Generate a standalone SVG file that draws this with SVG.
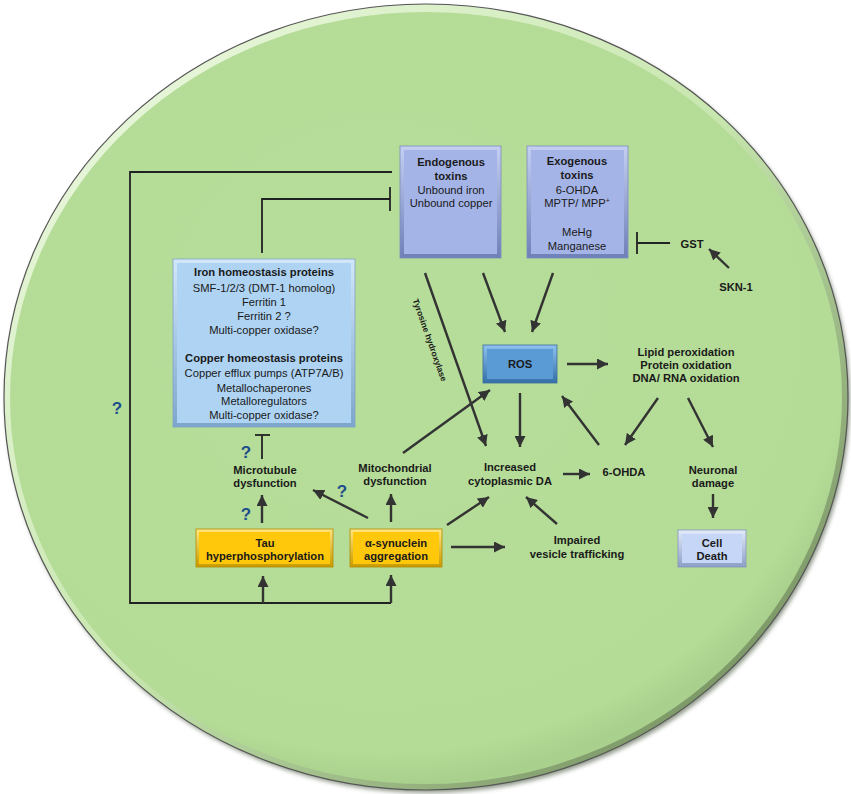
<svg xmlns="http://www.w3.org/2000/svg" width="851" height="794" viewBox="0 0 851 794">
<defs>
<style>
.t{font-family:"Liberation Sans",Arial,sans-serif;font-size:11.2px;fill:#1a1a1a;text-anchor:middle}
.b{font-weight:bold}
.q{font-family:"Liberation Sans",Arial,sans-serif;font-size:17px;font-weight:bold;fill:#1f4e8c;text-anchor:middle}
.ln{fill:none;stroke:#333;stroke-width:2.4}
.ar{fill:none;stroke:#333;stroke-width:2.4;marker-end:url(#ah)}
.thin{fill:none;stroke:#222;stroke-width:1.8}
</style>
<marker id="ah" markerUnits="userSpaceOnUse" markerWidth="12" markerHeight="11" refX="11" refY="5.5" orient="auto">
<path d="M0,0 L11,5.5 L0,11 z" fill="#333"/>
</marker>
<radialGradient id="bg" cx="0.45" cy="0.4" r="0.6">
<stop offset="0" stop-color="#b6dd99"/>
<stop offset="0.93" stop-color="#b4dc97"/>
<stop offset="1" stop-color="#a9d08c"/>
</radialGradient>
<linearGradient id="rim" x1="0" y1="0" x2="1" y2="1">
<stop offset="0" stop-color="#f2fbe8"/>
<stop offset="0.5" stop-color="#c7e6ae"/>
<stop offset="1" stop-color="#5f7a4c"/>
</linearGradient>
<filter id="sh" x="-5%" y="-5%" width="110%" height="110%">
<feGaussianBlur stdDeviation="2"/>
</filter>
<linearGradient id="gLav" x1="0" y1="0" x2="0" y2="1">
<stop offset="0" stop-color="#c4cff2"/>
<stop offset="1" stop-color="#6f80b8"/>
</linearGradient>
<linearGradient id="gIron" x1="0" y1="0" x2="0" y2="1">
<stop offset="0" stop-color="#d2e7fa"/>
<stop offset="1" stop-color="#7da6cc"/>
</linearGradient>
<linearGradient id="gRos" x1="0" y1="0" x2="0" y2="1">
<stop offset="0" stop-color="#8fc0ee"/>
<stop offset="1" stop-color="#336fa8"/>
</linearGradient>
<linearGradient id="gGold" x1="0" y1="0" x2="0" y2="1">
<stop offset="0" stop-color="#ffe680"/>
<stop offset="1" stop-color="#c99a00"/>
</linearGradient>
<linearGradient id="gCell" x1="0" y1="0" x2="0" y2="1">
<stop offset="0" stop-color="#e3ebfb"/>
<stop offset="1" stop-color="#8e9fc6"/>
</linearGradient>
</defs>

<g id="background">
<ellipse cx="428" cy="400" rx="422" ry="393" fill="#4a5a40" filter="url(#sh)" opacity="0.6"/>
<ellipse cx="426" cy="397" rx="422" ry="393" fill="url(#rim)" stroke="#555" stroke-width="1.2"/>
<ellipse cx="426" cy="398" rx="416" ry="386" fill="url(#bg)"/>
</g>

<g id="connectors">
<polyline class="thin" points="392,172 130,172 130,603 391,603"/>
<line class="ar" x1="263" y1="603" x2="263" y2="576"/>
<line class="ar" x1="391" y1="603" x2="391" y2="575"/>
<polyline class="thin" points="262,253 262,199 390,199"/>
<line class="thin" x1="390" y1="187" x2="390" y2="211"/>
<line class="thin" x1="262" y1="459" x2="262" y2="435"/>
<line class="thin" x1="255" y1="435" x2="270" y2="435"/>
<line class="ar" x1="262" y1="523" x2="262" y2="495"/>
<line class="ar" x1="391" y1="522" x2="391" y2="494"/>
<line class="ar" x1="368" y1="518" x2="313" y2="490"/>
<line class="ar" x1="403" y1="453" x2="490" y2="390"/>
<line class="ar" x1="483" y1="273" x2="505" y2="332"/>
<line class="ar" x1="553" y1="273" x2="532" y2="332"/>
<line class="ar" x1="425" y1="273" x2="486" y2="446"/>
<line class="ar" x1="567" y1="364" x2="608" y2="364"/>
<line class="ar" x1="520" y1="393" x2="520" y2="447"/>
<line class="ar" x1="599" y1="445" x2="562" y2="396"/>
<line class="ar" x1="658" y1="398" x2="625" y2="445"/>
<line class="ar" x1="688" y1="398" x2="713" y2="447"/>
<line class="ar" x1="563" y1="474" x2="590" y2="474"/>
<line class="ar" x1="713" y1="494" x2="713" y2="518"/>
<line class="ar" x1="447" y1="525" x2="489" y2="497"/>
<line class="ar" x1="557" y1="524" x2="526" y2="497"/>
<line class="ar" x1="451" y1="547" x2="505" y2="547"/>
<line class="thin" x1="670" y1="243" x2="637" y2="243"/>
<line class="thin" x1="637" y1="232" x2="637" y2="254"/>
<line class="ar" x1="729" y1="268" x2="709" y2="249"/>
<text class="t b" transform="translate(427,341) rotate(70.5)" style="font-size:8.5px">Tyrosine hydroxylase</text>
</g>

<g id="endogenous">
<rect x="400" y="146" width="101" height="112" fill="url(#gLav)" stroke="#7d8cbd" stroke-width="0.8"/>
<rect x="404" y="150" width="93" height="104" fill="#a4b4e7"/>
<text class="t b" x="451" y="166">Endogenous</text>
<text class="t b" x="451" y="180">toxins</text>
<text class="t" x="451" y="194">Unbound iron</text>
<text class="t" x="451" y="207">Unbound copper</text>
</g>

<g id="exogenous">
<rect x="527" y="146" width="101" height="112" fill="url(#gLav)" stroke="#7d8cbd" stroke-width="0.8"/>
<rect x="531" y="150" width="93" height="104" fill="#a4b4e7"/>
<text class="t b" x="577" y="165">Exogenous</text>
<text class="t b" x="577" y="179">toxins</text>
<text class="t" x="577" y="194">6-OHDA</text>
<text class="t" x="577" y="207">MPTP/ MPP<tspan font-size="7" dy="-4">+</tspan></text>
<text class="t" x="577" y="236">MeHg</text>
<text class="t" x="577" y="250">Manganese</text>
</g>

<g id="iron">
<rect x="173" y="259" width="182" height="168" fill="url(#gIron)" stroke="#7fa3c6" stroke-width="0.8"/>
<rect x="177" y="263" width="174" height="160" fill="#aed3f3"/>
<text class="t b" x="264" y="276">Iron homeostasis proteins</text>
<text class="t" x="264" y="292">SMF-1/2/3 (DMT-1 homolog)</text>
<text class="t" x="264" y="306">Ferritin 1</text>
<text class="t" x="264" y="320">Ferritin 2 ?</text>
<text class="t" x="264" y="334">Multi-copper oxidase?</text>
<text class="t b" x="264" y="362">Copper homeostasis proteins</text>
<text class="t" x="264" y="377">Copper efflux pumps (ATP7A/B)</text>
<text class="t" x="264" y="392">Metallochaperones</text>
<text class="t" x="264" y="405">Metalloregulators</text>
<text class="t" x="264" y="419">Multi-copper oxidase?</text>
</g>

<g id="ros">
<rect x="483" y="345" width="74" height="38" fill="url(#gRos)" stroke="#3d6e9e" stroke-width="0.8"/>
<rect x="487" y="349" width="66" height="30" fill="#5b9bd5"/>
<text class="t b" x="520" y="368">ROS</text>
</g>

<g id="lipid">
<text class="t b" x="686" y="356">Lipid peroxidation</text>
<text class="t b" x="686" y="369">Protein oxidation</text>
<text class="t b" x="686" y="382">DNA/ RNA oxidation</text>
</g>

<g id="gst"><text class="t b" x="692" y="248">GST</text></g>
<g id="skn1"><text class="t b" x="736" y="291">SKN-1</text></g>

<g id="microtubule">
<text class="t b" x="265" y="474">Microtubule</text>
<text class="t b" x="265" y="487">dysfunction</text>
</g>

<g id="mitochondrial">
<text class="t b" x="395" y="472">Mitochondrial</text>
<text class="t b" x="395" y="485">dysfunction</text>
</g>

<g id="dopamine">
<text class="t b" x="510" y="471">Increased</text>
<text class="t b" x="510" y="485">cytoplasmic DA</text>
</g>

<g id="ohda"><text class="t b" x="624" y="476">6-OHDA</text></g>

<g id="neuronal">
<text class="t b" x="713" y="474">Neuronal</text>
<text class="t b" x="713" y="487">damage</text>
</g>

<g id="impaired">
<text class="t b" x="577" y="544">Impaired</text>
<text class="t b" x="577" y="558">vesicle trafficking</text>
</g>

<g id="tau">
<rect x="196" y="529" width="137" height="38" fill="url(#gGold)" stroke="#b38a00" stroke-width="0.8"/>
<rect x="199" y="532" width="131" height="32" fill="#ffc80a"/>
<text class="t b" x="265" y="547">Tau</text>
<text class="t b" x="265" y="560">hyperphosphorylation</text>
</g>

<g id="synuclein">
<rect x="350" y="529" width="92" height="38" fill="url(#gGold)" stroke="#b38a00" stroke-width="0.8"/>
<rect x="353" y="532" width="86" height="32" fill="#ffc80a"/>
<text class="t b" x="396" y="547">α-synuclein</text>
<text class="t b" x="396" y="560">aggregation</text>
</g>

<g id="celldeath">
<rect x="678" y="530" width="68" height="37" fill="url(#gCell)" stroke="#8596bf" stroke-width="0.8"/>
<rect x="682" y="534" width="60" height="29" fill="#c6d6f6"/>
<text class="t b" x="712" y="547">Cell</text>
<text class="t b" x="712" y="560">Death</text>
</g>

<g id="questions">
<text class="q" x="246" y="458">?</text>
<text class="q" x="246" y="520">?</text>
<text class="q" x="342" y="497">?</text>
<text class="q" x="117" y="414">?</text>
</g>
</svg>
